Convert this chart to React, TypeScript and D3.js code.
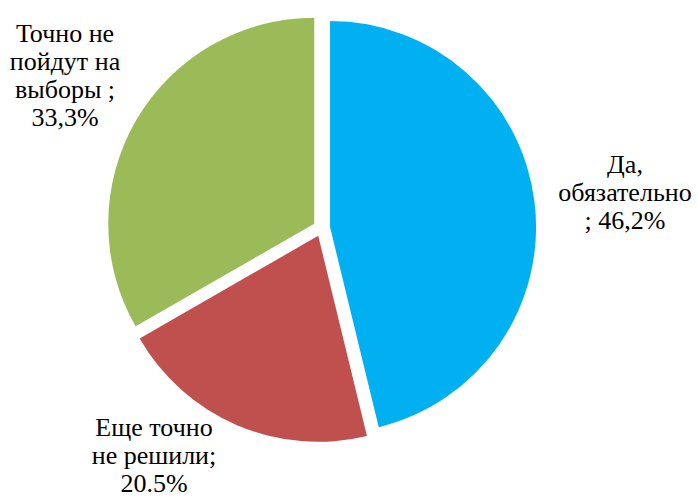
import React from 'react';
import * as d3 from 'd3';

const categories = ['Да, обязательно', 'Еще точно не решили', 'Точно не пойдут на выборы'];
const values = [46.2, 20.5, 33.3];
const colors = ['#00B0F0', '#C0504D', '#9BBB59'];
const labelLines = [
  ['Да,', 'обязательно', '; 46,2%'],
  ['Еще точно', 'не решили;', '20.5%'],
  ['Точно не', 'пойдут на', 'выборы ;', '33,3%'],
];
// label centre x and first baseline y
const labelPos: [number, number][] = [
  [625, 173],
  [154, 436],
  [65, 42],
];

const width = 698;
const height = 498;
const cx = 321.6;
const cy = 228;
const radius = 206;
const explode = 8.5;
const fontSize = 26;
const lineH = 28;
const serifFont = '"Times New Roman", Times, "Liberation Serif", Tinos, "Noto Serif", "DejaVu Serif", serif';

const App = () => {
  const pie = d3
    .pie<number>()
    .sort(null)
    .value((d) => d);
  const arcs = pie(values);
  const arc = d3.arc<d3.PieArcDatum<number>>().innerRadius(0).outerRadius(radius);

  return (
    <svg
      width={width}
      height={height}
      style={{ position: 'absolute', left: 0, top: 0, background: '#fff' }}
    >
      <g transform={`translate(${cx},${cy})`}>
        {arcs.map((a, i) => {
          const mid = (a.startAngle + a.endAngle) / 2;
          const dx = Math.sin(mid) * explode;
          const dy = -Math.cos(mid) * explode;
          return (
            <path
              key={categories[i]}
              d={arc(a) ?? ''}
              fill={colors[i]}
              transform={`translate(${dx},${dy})`}
            />
          );
        })}
      </g>
      {labelLines.map((lines, i) => {
        const [x, y] = labelPos[i];
        return (
          <text
            key={categories[i]}
            x={x}
            textAnchor="middle"
            fontFamily={serifFont}
            fontSize={fontSize}
            fill="#000"
          >
            {lines.map((l, j) => (
              <tspan key={j} x={x} y={y + j * lineH}>
                {l}
              </tspan>
            ))}
          </text>
        );
      })}
    </svg>
  );
};

export default App;
